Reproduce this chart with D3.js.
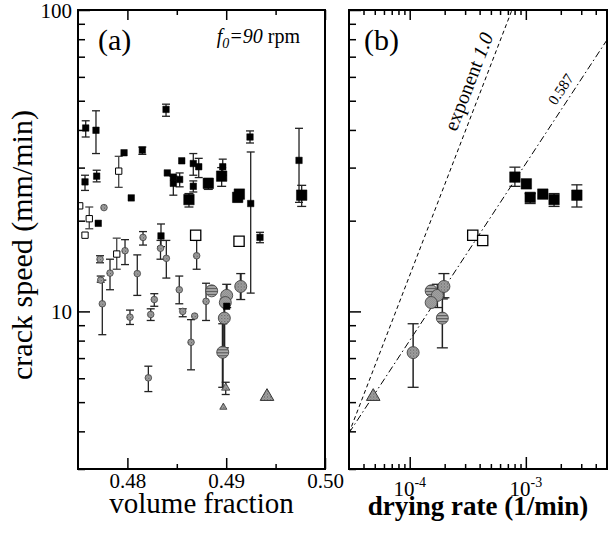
<!DOCTYPE html>
<html><head><meta charset="utf-8">
<script src="https://cdn.jsdelivr.net/npm/d3@7"></script>
<style>
body{margin:0;background:#fff}
svg{display:block}
text{font-family:"Liberation Serif","Times New Roman",serif;fill:#000}
</style>
</head><body>
<svg id="c" width="608" height="533"></svg>
<script>
// ---------------- data ----------------
const yTickMajor = [10, 100];
const yTickMinor = [3, 4, 5, 6, 7, 8, 9, 20, 30, 40, 50, 60, 70, 80, 90];
const aTickMajor = [0.48, 0.49, 0.50];
const aTickMinor = [0.485, 0.495];
const bTickMajor = [1e-4, 1e-3];
const bTickMinor = [4e-5, 5e-5, 6e-5, 7e-5, 8e-5, 9e-5, 2e-4, 3e-4, 4e-4, 5e-4, 6e-4, 7e-4, 8e-4, 9e-4, 2e-3, 3e-3, 4e-3];
const bTickLabels = [["10", "-4"], ["10", "-3"]];

// panel (a): [volume fraction, crack speed, error low, error high]
const aSqSmall = [
  [0.47578, 40.6, 37.9, 42.9], [0.47682, 39.9, 33.4, 46.3], [0.48391, 46.8, 44.4, 48.7],
  [0.49241, 37.9, 36.2, 39.7], [0.47966, 33.6, null, null], [0.48151, 34.3, 33.2, 35.1],
  [0.47571, 26.9, 25.2, 28.3], [0.47689, 28.1, 26.9, 29.4], [0.48550, 31.6, null, null],
  [0.48404, 28.8, null, null], [0.48465, 27.9, null, null], [0.48465, 26.6, 24.3, 28.1],
  [0.48529, 27.4, 25.9, 28.8], [0.48667, 30.95, 28.3, 33.4], [0.48722, 30.2, 27.8, 32.2],
  [0.48667, 26.0, 24.9, 27.1], [0.48039, 23.8, null, null], [0.47705, 19.6, null, null],
  [0.48965, 30.2, 28.3, 32.0], [0.49248, 22.8, 11.5, 33.8], [0.49737, 31.7, 23.0, 40.5],
  [0.48340, 17.8, 16.4, 19.5], [0.49342, 17.6, 16.9, 18.3], [0.49005, 10.4, null, null]
];
const aSqLarge = [
  [0.48954, 28.1, 26.0, 30.0], [0.48819, 26.6, 25.4, 27.6], [0.48623, 23.5, 22.2, 24.6],
  [0.49133, 24.5, null, null], [0.49116, 23.9, 23.1, 24.6], [0.49764, 24.3, 22.3, 26.2]
];
const aOpenSmall = [
  [0.47517, 22.4, null, null], [0.47614, 20.3, 18.8, 22.2], [0.47571, 17.9, null, null],
  [0.47912, 29.2, 25.8, 32.7], [0.47892, 15.5, 13.8, 17.5]
];
const aOpenLarge = [[0.48691, 17.9, null, null], [0.49130, 17.1, null, null]];
const aCircSmall = [
  [0.47763, 22.1, null, null], [0.48158, 17.6, 16.6, 18.4], [0.48335, 16.2, 14.9, 17.2],
  [0.48394, 15.0, 12.9, 17.2], [0.47976, 15.9, 14.3, 17.3], [0.47723, 14.9, 14.5, 15.3],
  [0.47824, 13.4, 11.8, 14.9], [0.48100, 13.35, 11.3, 15.4], [0.47730, 12.7, 12.5, 13.1],
  [0.47746, 10.6, 8.37, 12.7], [0.48026, 9.57, 9.05, 10.1], [0.48236, 9.77, 9.33, 10.2],
  [0.48272, 10.95, 10.4, 11.45], [0.48525, 11.8, 10.6, 13.1], [0.48560, 10.0, 9.6, 10.2],
  [0.48681, 9.65, null, null], [0.48644, 7.9, 6.4, 9.39], [0.48212, 6.02, 5.42, 6.58],
  [0.48796, 10.8, 9.33, 12.4], [0.48701, 15.3, 13.8, 17.2]
];
const aCircLarge = [
  [0.48853, 11.7, null, null], [0.49005, 11.3, 10.3, 12.3], [0.48991, 10.7, null, null],
  [0.48981, 9.5, 7.57, 11.0], [0.48965, 7.32, 5.6, 9.1], [0.49147, 12.1, 10.95, 13.35]
];
const circLargeFill = ["stripe", "check", "check", "plain", "stripe", "plain"];
const aTriSmall = [[0.48995, 5.58, 5.30, 5.82]];
const aTriTiny = [[0.48971, 4.81, null, null]];
const aTriLarge = [[0.49413, 5.22, null, null]];

// panel (b): [drying rate, crack speed, error low, error high]
const bSq = [
  [8.05e-4, 27.9, 26.0, 30.1], [1.01e-3, 26.5, null, null], [1.09e-3, 23.9, 22.8, 24.6],
  [1.40e-3, 24.5, null, null], [1.75e-3, 23.5, 22.3, 24.6], [2.75e-3, 24.3, 22.2, 26.3]
];
const bOpen = [[3.49e-4, 17.9, null, null], [4.25e-4, 17.2, null, null]];
const bCirc = [
  [1.53e-4, 11.7, null, null], [1.73e-4, 11.3, 10.3, 12.3], [1.53e-4, 10.7, null, null],
  [1.97e-4, 12.1, 11.1, 13.35], [1.91e-4, 9.5, 7.57, 11.0], [1.07e-4, 7.3, 5.6, 9.1]
];
const bTri = [[4.85e-5, 5.22, null, null]];
const fitAnchor = [3e-5, 3.95];
const fitExponents = [1.0, 0.587];

// ---------------- drawing ----------------
const svg = d3.select("#c");
const yTop = 10, yBot = 469;
const ay0 = 78, ay1 = 325, bx0 = 349, bx1 = 607;
const y = d3.scaleLog().domain([3, 100]).range([yBot, yTop]);
const xa = d3.scaleLinear().domain([0.475, 0.50]).range([ay0, ay1]);
const xb = d3.scaleLog().domain([3e-5, 5e-3]).range([bx0, bx1]);

const defs = svg.append("defs");
const pH = defs.append("pattern").attr("id", "plain").attr("width", 3).attr("height", 3).attr("patternUnits", "userSpaceOnUse");
pH.append("rect").attr("width", 3).attr("height", 3).attr("fill", "#a2a2a2");
pH.append("rect").attr("width", 1).attr("height", 1).attr("fill", "#555");
pH.append("rect").attr("x", 1.5).attr("y", 1.5).attr("width", 1).attr("height", 1).attr("fill", "#666");
const pS = defs.append("pattern").attr("id", "stripe").attr("width", 3).attr("height", 3).attr("patternUnits", "userSpaceOnUse");
pS.append("rect").attr("width", 3).attr("height", 3).attr("fill", "#b0b0b0");
pS.append("rect").attr("width", 3).attr("height", 1.2).attr("fill", "#555");
const pC = defs.append("pattern").attr("id", "check").attr("width", 2).attr("height", 2).attr("patternUnits", "userSpaceOnUse");
pC.append("rect").attr("width", 2).attr("height", 2).attr("fill", "#fff");
pC.append("rect").attr("width", 1).attr("height", 1).attr("fill", "#333");
pC.append("rect").attr("x", 1).attr("y", 1).attr("width", 1).attr("height", 1).attr("fill", "#333");

defs.append("clipPath").attr("id", "clipA").append("rect").attr("x", ay0).attr("y", yTop).attr("width", ay1 - ay0).attr("height", yBot - yTop);
defs.append("clipPath").attr("id", "clipB").append("rect").attr("x", bx0).attr("y", yTop).attr("width", bx1 - bx0).attr("height", yBot - yTop);

function axisG(tr, axis) {
  const g = svg.append("g").attr("transform", tr).call(axis);
  g.select(".domain").remove();
  g.selectAll("line").attr("stroke", "#000").attr("stroke-width", 1.5);
  return g;
}
// panel a ticks
axisG(`translate(${ay0},0)`, d3.axisRight(y).tickValues(yTickMajor).tickSize(12).tickFormat(""));
axisG(`translate(${ay0},0)`, d3.axisRight(y).tickValues(yTickMinor).tickSize(7).tickFormat(""));
axisG(`translate(0,${yBot})`, d3.axisTop(xa).tickValues(aTickMajor).tickSize(11).tickFormat(""));
axisG(`translate(0,${yBot})`, d3.axisTop(xa).tickValues(aTickMinor).tickSize(5).tickFormat(""));
axisG(`translate(0,${yTop})`, d3.axisBottom(xa).tickValues(aTickMajor).tickSize(10).tickFormat(""));
axisG(`translate(0,${yTop})`, d3.axisBottom(xa).tickValues(aTickMinor).tickSize(5).tickFormat(""));
// panel b ticks
axisG(`translate(${bx0},0)`, d3.axisRight(y).tickValues(yTickMajor).tickSize(12).tickFormat(""));
axisG(`translate(${bx0},0)`, d3.axisRight(y).tickValues(yTickMinor).tickSize(7).tickFormat(""));
axisG(`translate(0,${yBot})`, d3.axisTop(xb).tickValues(bTickMajor).tickSize(12).tickFormat(""));
axisG(`translate(0,${yBot})`, d3.axisTop(xb).tickValues(bTickMinor).tickSize(5).tickFormat(""));
axisG(`translate(0,${yTop})`, d3.axisBottom(xb).tickValues(bTickMajor).tickSize(10).tickFormat(""));
axisG(`translate(0,${yTop})`, d3.axisBottom(xb).tickValues(bTickMinor).tickSize(5).tickFormat(""));

// tick labels
const yl = svg.append("g").attr("transform", `translate(${ay0},0)`)
  .call(d3.axisLeft(y).tickValues(yTickMajor).tickSize(0).tickPadding(6).tickFormat(d3.format("d")));
yl.select(".domain").remove();
yl.selectAll("text").attr("font-size", 21).attr("font-family", "Liberation Serif").attr("dy", "0.35em");
const xl = svg.append("g").attr("transform", `translate(0,${yBot})`)
  .call(d3.axisBottom(xa).tickValues(aTickMajor).tickSize(0).tickPadding(4).tickFormat(d3.format(".2f")));
xl.select(".domain").remove();
xl.selectAll("text").attr("font-size", 21).attr("font-family", "Liberation Serif");
bTickMajor.forEach((v, i) => {
  const t = svg.append("text").attr("x", xb(v)).attr("y", 496).attr("text-anchor", "middle").attr("font-size", 21);
  t.append("tspan").text(bTickLabels[i][0]);
  t.append("tspan").attr("dy", -9).attr("font-size", 14).text(bTickLabels[i][1]);
});

// fit lines in panel b
const gb = svg.append("g").attr("clip-path", "url(#clipB)");
const fitStyles = ["4,3", "7,3,1.5,3"];
fitExponents.forEach((e, i) => {
  const xs = xb.domain();
  const pts = xs.map(r => [r, fitAnchor[1] * Math.pow(r / fitAnchor[0], e)]);
  gb.append("path").attr("d", d3.line().x(d => xb(d[0])).y(d => y(d[1]))(pts))
    .attr("fill", "none").attr("stroke", "#000").attr("stroke-width", 1).attr("stroke-dasharray", fitStyles[i]);
});

function errBars(g, data, xs, cap, color, sw) {
  data.filter(d => d[2] != null).forEach(d => {
    const x = xs(d[0]);
    g.append("line").attr("x1", x).attr("x2", x).attr("y1", y(d[2])).attr("y2", y(d[3]))
      .attr("stroke", color).attr("stroke-width", sw);
    [d[2], d[3]].forEach(v => g.append("line").attr("x1", x - cap / 2).attr("x2", x + cap / 2)
      .attr("y1", y(v)).attr("y2", y(v)).attr("stroke", color).attr("stroke-width", 1.3));
  });
}
function marks(g, data, xs, type, size, fill, stroke, sw) {
  g.selectAll(null).data(data).enter().append("path")
    .attr("transform", d => `translate(${xs(d[0])},${y(d[1])})`)
    .attr("d", d3.symbol().type(type).size(size))
    .attr("fill", typeof fill === "function" ? fill : () => fill)
    .attr("stroke", stroke).attr("stroke-width", sw);
}

// panel a
const ga = svg.append("g").attr("clip-path", "url(#clipA)");
const eb = ga.append("g");
errBars(eb, aSqSmall, xa, 8, "#222", 1.3);
errBars(eb, aSqLarge, xa, 9, "#222", 1.3);
errBars(eb, aOpenSmall, xa, 8, "#444", 1.3);
errBars(eb, aCircSmall, xa, 8, "#222", 1.3);
errBars(eb, aCircLarge, xa, 9, "#222", 2);
errBars(eb, aTriSmall, xa, 8, "#222", 1.3);
marks(ga, aCircSmall, xa, d3.symbolCircle, Math.PI * 3.3 * 3.3, "url(#plain)", "#444", 0.8);
marks(ga, aCircLarge, xa, d3.symbolCircle, Math.PI * 6 * 6, (d, i) => `url(#${circLargeFill[i]})`, "#444", 0.9);
marks(ga, aTriSmall, xa, d3.symbolTriangle, 30, "url(#plain)", "#333", 0.8);
marks(ga, aTriTiny, xa, d3.symbolTriangle, 22, "url(#plain)", "#333", 0.8);
marks(ga, aTriLarge, xa, d3.symbolTriangle, 80, "url(#plain)", "#333", 1);
marks(ga, aSqSmall, xa, d3.symbolSquare, 42, "#000", "#000", 0.5);
marks(ga, aSqLarge, xa, d3.symbolSquare, 110, "#000", "#000", 0.5);
marks(ga, aOpenSmall, xa, d3.symbolSquare, 40, "#fff", "#000", 1);
marks(ga, aOpenLarge, xa, d3.symbolSquare, 105, "#fff", "#000", 1.3);

// panel b
const gbm = svg.append("g").attr("clip-path", "url(#clipB)");
const ebb = gbm.append("g");
errBars(ebb, bSq, xb, 11, "#222", 1.3);
errBars(ebb, bCirc, xb, 11, "#222", 1.5);
marks(gbm, bTri, xb, d3.symbolTriangle, 80, "url(#plain)", "#333", 1);
marks(gbm, bCirc, xb, d3.symbolCircle, Math.PI * 6 * 6, (d, i) => `url(#${circLargeFill[i]})`, "#444", 0.9);
marks(gbm, bSq, xb, d3.symbolSquare, 110, "#000", "#000", 0.5);
marks(gbm, bOpen, xb, d3.symbolSquare, 105, "#fff", "#000", 1.3);

// frames
svg.append("rect").attr("x", ay0).attr("y", yTop).attr("width", ay1 - ay0).attr("height", yBot - yTop)
  .attr("fill", "none").attr("stroke", "#000").attr("stroke-width", 2);
svg.append("rect").attr("x", bx0).attr("y", yTop).attr("width", bx1 - bx0).attr("height", yBot - yTop)
  .attr("fill", "none").attr("stroke", "#000").attr("stroke-width", 2);

// texts
svg.append("text").attr("x", 98).attr("y", 50).attr("font-size", 30).text("(a)");
svg.append("text").attr("x", 364).attr("y", 50).attr("font-size", 30).text("(b)");
const f0 = svg.append("text").attr("x", 300).attr("y", 43).attr("text-anchor", "end").attr("font-size", 20);
f0.append("tspan").attr("font-style", "italic").text("f");
f0.append("tspan").attr("font-style", "italic").attr("font-size", 14).attr("dy", 5).text("0");
f0.append("tspan").attr("font-style", "italic").attr("dy", -5).text("=90");
f0.append("tspan").text(" rpm");

svg.append("text").attr("transform", "translate(32,245) rotate(-90)").attr("text-anchor", "middle")
  .attr("font-size", 30).text("crack speed (mm/min)");
svg.append("text").attr("x", (ay0 + ay1) / 2).attr("y", 513).attr("text-anchor", "middle")
  .attr("font-size", 29).text("volume fraction");
svg.append("text").attr("x", (bx0 + bx1) / 2).attr("y", 515).attr("text-anchor", "middle")
  .attr("font-size", 27).attr("font-weight", "bold").text("drying rate (1/min)");

// fit labels
const ex = svg.append("text").attr("transform", "translate(475,84) rotate(-68.8)").attr("text-anchor", "middle").attr("font-size", 20);
ex.append("tspan").text("exponent ");
ex.append("tspan").attr("font-style", "italic").text("1.0");
svg.append("text").attr("transform", "translate(565,92) rotate(-56.6)").attr("text-anchor", "middle")
  .attr("font-size", 15).text("0.587");
</script>
</body></html>
